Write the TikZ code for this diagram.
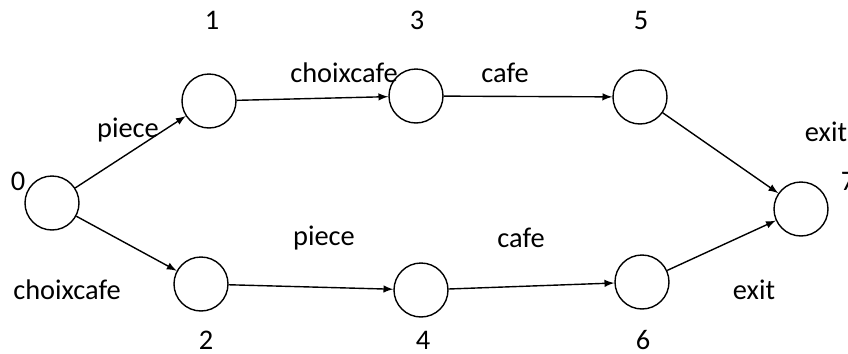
\documentclass[tikz,border=0pt]{standalone}
\usepackage{fontspec}
\setmainfont{Carlito}
\usetikzlibrary{arrows}

\begin{document}
\begin{tikzpicture}[x=0.5pt,y=-0.5pt,line width=0.7pt,
  state/.style={circle,draw,minimum size=27pt,inner sep=0pt},
  lbl/.style={font=\fontsize{14.2}{17}\selectfont}]
\useasboundingbox (0,0) rectangle (848,354);
% states
\node[state] (s0) at (52,203) {};
\node[state] (s1) at (209,101) {};
\node[state] (s3) at (416,96) {};
\node[state] (s5) at (640,97) {};
\node[state] (s2) at (201,284) {};
\node[state] (s4) at (421,290) {};
\node[state] (s6) at (642,282) {};
\node[state] (s7) at (801,209) {};
% state numbers
\node[lbl] (n0) at (18,181) {0};
\node[lbl] (n1) at (212,20) {1};
\node[lbl] (n3) at (417,20) {3};
\node[lbl] (n5) at (641,20) {5};
\node[lbl] (n7) at (848,181) {7};
\node[lbl] (n2) at (206,340) {2};
\node[lbl] (n4) at (423,340) {4};
\node[lbl] (n6) at (643,340) {6};
% transitions
\draw[-latex] (s0) -- (s1);
\draw[-latex] (s1) -- (s3);
\draw[-latex] (s3) -- (s5);
\draw[-latex] (s5) -- (s7);
\draw[-latex] (s0) -- (s2);
\draw[-latex] (s2) -- (s4);
\draw[-latex] (s4) -- (s6);
\draw[-latex] (s6) -- (s7);
% transition labels
\node[lbl] (e01) at (128,130) {piece};
\node[lbl] (e13) at (344,73) {choixcafe};
\node[lbl] (e35) at (505,73) {cafe};
\node[lbl] (e57) at (826,132) {exit};
\node[lbl] (e02) at (67,290) {choixcafe};
\node[lbl] (e24) at (324,238) {piece};
\node[lbl] (e46) at (521,238) {cafe};
\node[lbl] (e67) at (754,290) {exit};
\end{tikzpicture}
\end{document}
